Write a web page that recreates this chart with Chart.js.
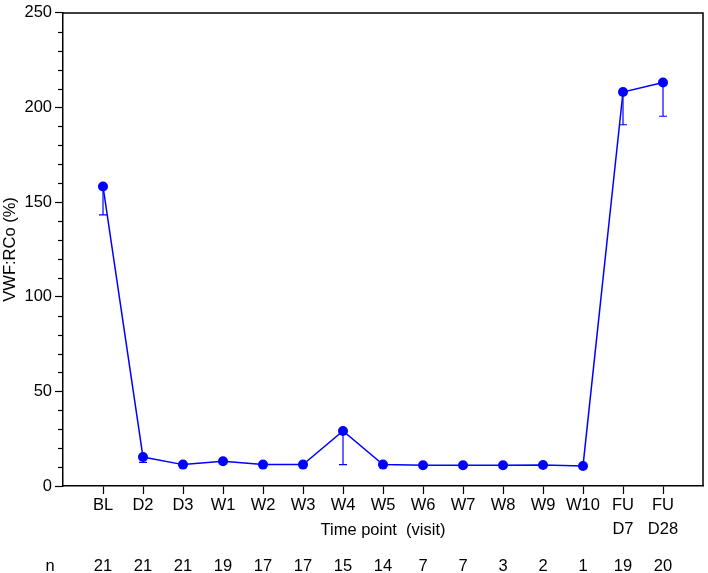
<!DOCTYPE html>
<html>
<head>
<meta charset="utf-8">
<script src="https://cdn.jsdelivr.net/npm/chart.js@4.4.0/dist/chart.umd.min.js"></script>
<style>
  html, body { margin: 0; padding: 0; background: #fff; }
  #wrap { width: 708px; height: 573px; }
</style>
</head>
<body>
<div id="wrap"><canvas id="grafico"></canvas></div>
<script>
// Rótulos das visitas (eixo x)
const visitas = ['BL', 'D2', 'D3', 'W1', 'W2', 'W3', 'W4', 'W5', 'W6', 'W7', 'W8', 'W9', 'W10', ['FU', 'D7'], ['FU', 'D28']];
// Média de VWF:RCo (%) em cada visita
const medias = [158.3, 15.3, 11.3, 13.1, 11.3, 11.3, 29.1, 11.3, 11.0, 11.0, 11.0, 11.1, 10.6, 208.2, 213.2];
// Limite inferior da barra de erro (null = escondida pelo ponto)
const limiteInferior = [143.3, 12.5, null, null, null, null, 11.3, null, null, null, null, null, null, 190.9, 195.4];
// Número de pacientes por visita
const contagens = [21, 21, 21, 19, 17, 17, 15, 14, 7, 7, 3, 2, 1, 19, 20];
// Ticks do eixo y
const ticksMaiores = [0, 50, 100, 150, 200, 250];
const ticksMenores = [10, 20, 30, 40, 60, 70, 80, 90, 110, 120, 130, 140, 160, 170, 180, 190, 210, 220, 230, 240];

const fonte = '"Liberation Sans", Arial, sans-serif';
const tamanho = 16.5;
const azul = '#0000ff';

// Plugin para barras de erro, ticks menores, moldura e linha do "n"
const extras = {
    id: 'extras',
    beforeDatasetsDraw(chart) {
        const { ctx, scales: { x, y } } = chart;
        ctx.save();
        ctx.strokeStyle = azul;
        ctx.lineWidth = 1.2;
        limiteInferior.forEach((lo, i) => {
            if (lo === null) return;
            const px = x.getPixelForValue(i + 1);
            const pTop = y.getPixelForValue(medias[i]);
            const pLo = y.getPixelForValue(lo);
            ctx.beginPath();
            ctx.moveTo(px, pTop);
            ctx.lineTo(px, pLo);
            ctx.moveTo(px - 4, pLo);
            ctx.lineTo(px + 4, pLo);
            ctx.stroke();
        });
        ctx.restore();
    },
    afterDraw(chart) {
        const { ctx, chartArea: area, scales: { x, y } } = chart;
        ctx.save();
        ctx.strokeStyle = '#000';
        ctx.lineWidth = 1.5;
        // moldura superior e direita
        ctx.beginPath();
        ctx.moveTo(area.left, area.top);
        ctx.lineTo(area.right, area.top);
        ctx.lineTo(area.right, area.bottom);
        ctx.stroke();
        // ticks menores do eixo y
        ctx.lineWidth = 1.2;
        ticksMenores.forEach(v => {
            const py = Math.round(y.getPixelForValue(v)) + 0.5;
            ctx.beginPath();
            ctx.moveTo(area.left - 5, py);
            ctx.lineTo(area.left, py);
            ctx.stroke();
        });
        // linha do n
        ctx.fillStyle = '#000';
        ctx.font = tamanho + 'px ' + fonte;
        ctx.textAlign = 'center';
        ctx.textBaseline = 'middle';
        ctx.fillText('n', 50, 566);
        contagens.forEach((n, i) => {
            ctx.fillText(String(n), x.getPixelForValue(i + 1), 566);
        });
        ctx.restore();
    }
};

const grafico = new Chart(document.getElementById('grafico'), {
    type: 'line',
    data: {
        datasets: [{
            data: medias.map((v, i) => ({ x: i + 1, y: v })),
            borderColor: azul,
            backgroundColor: azul,
            borderWidth: 1.5,
            pointRadius: 5,
            pointBorderWidth: 0,
            tension: 0
        }]
    },
    plugins: [extras],
    options: {
        responsive: true,
        maintainAspectRatio: false,
        animation: false,
        layout: { padding: { top: 8, right: 2, left: 0, bottom: 0 } },
        plugins: { legend: { display: false }, tooltip: { enabled: false } },
        scales: {
            x: {
                type: 'linear',
                min: 0,
                max: 16,
                afterBuildTicks: s => { s.ticks = s.ticks.filter(t => t.value >= 1 && t.value <= 15); },
                afterFit: s => { s.height = 87; },
                ticks: {
                    stepSize: 1,
                    autoSkip: false,
                    maxRotation: 0,
                    padding: 0,
                    color: '#000',
                    font: { family: fonte, size: tamanho, lineHeight: 1.42 },
                    callback: v => visitas[v - 1]
                },
                grid: { drawOnChartArea: false, tickLength: 8, color: '#000', tickWidth: 1.2 },
                border: { color: '#000', width: 1.5 },
                title: {
                    display: true,
                    text: 'Time point  (visit)',
                    color: '#000',
                    font: { family: fonte, size: tamanho },
                    padding: { top: 0, bottom: 33 }
                }
            },
            y: {
                min: 0,
                max: 250,
                afterBuildTicks: s => { s.ticks = ticksMaiores.map(v => ({ value: v })); },
                afterFit: s => { s.width = 63; },
                ticks: {
                    stepSize: 50,
                    padding: 3,
                    color: '#000',
                    font: { family: fonte, size: tamanho }
                },
                grid: { drawOnChartArea: false, tickLength: 8, color: '#000', tickWidth: 1.2 },
                border: { color: '#000', width: 1.5 },
                title: {
                    display: true,
                    text: 'VWF:RCo (%)',
                    color: '#000',
                    font: { family: fonte, size: tamanho },
                    padding: { top: 1, bottom: 0 }
                }
            }
        }
    }
});
</script>
</body>
</html>
